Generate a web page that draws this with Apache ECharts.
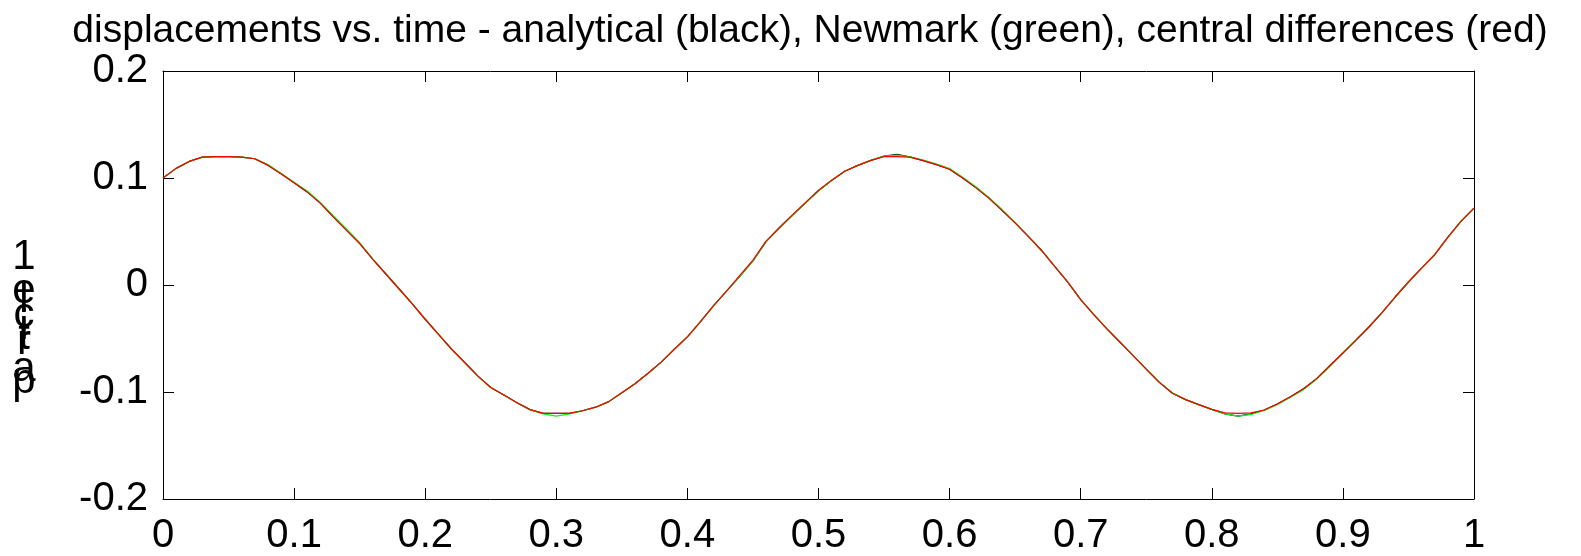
<!DOCTYPE html>
<html>
<head>
<meta charset="utf-8">
<script src="https://cdn.jsdelivr.net/npm/echarts@6/dist/echarts.min.js"></script>
<style>
html,body{margin:0;padding:0;background:#fff;}
#chart{width:1581px;height:556px;}
</style>
</head>
<body>
<div id="chart"></div>
<script>
const titleText = 'displacements vs. time - analytical (black), Newmark (green), central differences (red)';
const yLabelText = 'particle1';
const xTicks = [0, 0.1, 0.2, 0.3, 0.4, 0.5, 0.6, 0.7, 0.8, 0.9, 1];
const yTicks = [-0.2, -0.1, 0, 0.1, 0.2];

const time = [0.00,0.01,0.02,0.03,0.04,0.05,0.06,0.07,0.08,0.09,
  0.10,0.11,0.12,0.13,0.14,0.15,0.16,0.17,0.18,0.19,
  0.20,0.21,0.22,0.23,0.24,0.25,0.26,0.27,0.28,0.29,
  0.30,0.31,0.32,0.33,0.34,0.35,0.36,0.37,0.38,0.39,
  0.40,0.41,0.42,0.43,0.44,0.45,0.46,0.47,0.48,0.49,
  0.50,0.51,0.52,0.53,0.54,0.55,0.56,0.57,0.58,0.59,
  0.60,0.61,0.62,0.63,0.64,0.65,0.66,0.67,0.68,0.69,
  0.70,0.71,0.72,0.73,0.74,0.75,0.76,0.77,0.78,0.79,
  0.80,0.81,0.82,0.83,0.84,0.85,0.86,0.87,0.88,0.89,
  0.90,0.91,0.92,0.93,0.94,0.95,0.96,0.97,0.98,0.99,1.00];

const analytical = [0.100,0.109,0.1155,0.1195,0.120,0.120,0.1195,0.118,0.112,0.104,
  0.0955,0.087,0.0765,0.0637,0.0514,0.039,0.0242,0.0103,-0.0035,-0.0175,
  -0.032,-0.046,-0.0598,-0.0722,-0.0849,-0.0958,-0.1029,-0.110,-0.1165,-0.120,
  -0.120,-0.120,-0.1175,-0.1142,-0.109,-0.1006,-0.0923,-0.0825,-0.0721,-0.060,
  -0.0485,-0.0343,-0.0192,-0.0055,0.008,0.0225,0.0405,0.053,0.065,0.0766,
  0.088,0.0976,0.1063,0.1118,0.1165,0.1205,0.122,0.1195,0.1163,0.1125,
  0.1082,0.100,0.091,0.0812,0.0697,0.058,0.0455,0.0325,0.0177,0.003,
  -0.0137,-0.0276,-0.041,-0.0535,-0.066,-0.0786,-0.091,-0.1012,-0.1071,-0.1118,
  -0.1162,-0.1205,-0.1225,-0.1205,-0.1168,-0.1112,-0.1044,-0.097,-0.0875,-0.0755,
  -0.0636,-0.0515,-0.039,-0.0255,-0.011,0.0028,0.0158,0.0283,0.0445,0.0594,0.0718];

const newmark = [0.100,0.109,0.1155,0.1195,0.120,0.120,0.1195,0.118,0.1125,0.1045,
  0.096,0.0878,0.0772,0.0645,0.0522,0.0395,0.0245,0.0103,-0.0035,-0.0175,
  -0.032,-0.046,-0.0598,-0.0722,-0.0849,-0.0958,-0.1029,-0.110,-0.1165,-0.1205,
  -0.1225,-0.1205,-0.1175,-0.1142,-0.109,-0.1006,-0.0923,-0.0825,-0.0721,-0.060,
  -0.0485,-0.0343,-0.0192,-0.0055,0.008,0.0225,0.0405,0.053,0.065,0.0766,
  0.088,0.0976,0.1063,0.1118,0.1165,0.1205,0.1215,0.1198,0.1168,0.113,
  0.1088,0.1008,0.0918,0.0818,0.0705,0.0585,0.0455,0.0325,0.0177,0.003,
  -0.0137,-0.0276,-0.041,-0.0535,-0.066,-0.0786,-0.0905,-0.1008,-0.1071,-0.1118,
  -0.1162,-0.1205,-0.1225,-0.121,-0.1172,-0.1118,-0.105,-0.0978,-0.0882,-0.0762,
  -0.0630,-0.0512,-0.039,-0.0255,-0.011,0.0028,0.0158,0.0283,0.0445,0.0594,0.0718];

const centralDiff = [0.100,0.109,0.1155,0.1195,0.120,0.120,0.1195,0.118,0.112,0.104,
  0.0955,0.087,0.0765,0.0635,0.051,0.0388,0.024,0.0103,-0.0035,-0.0175,
  -0.032,-0.046,-0.0598,-0.0722,-0.0849,-0.0958,-0.1029,-0.110,-0.1165,-0.120,
  -0.120,-0.120,-0.1175,-0.1142,-0.109,-0.1006,-0.0923,-0.0825,-0.0721,-0.060,
  -0.0485,-0.0343,-0.0192,-0.0055,0.009,0.0232,0.041,0.0535,0.0655,0.077,
  0.0885,0.098,0.1063,0.1118,0.1165,0.120,0.120,0.1195,0.1163,0.1125,
  0.1082,0.100,0.091,0.0812,0.0697,0.058,0.0455,0.0325,0.0177,0.003,
  -0.0137,-0.0276,-0.041,-0.0535,-0.066,-0.0786,-0.091,-0.1012,-0.1071,-0.1118,
  -0.1162,-0.1195,-0.120,-0.1195,-0.1168,-0.1112,-0.1044,-0.097,-0.0875,-0.0755,
  -0.0636,-0.0515,-0.039,-0.0255,-0.011,0.0028,0.0158,0.0283,0.0445,0.0594,0.0718];

const FONT = '"Liberation Sans", Arial, Helvetica, sans-serif';

function pairs(vals){ return time.map((t,i)=>[t, vals[i]]); }

const chart = echarts.init(document.getElementById('chart'), null, {renderer:'canvas'});

// vertical stacked y-label characters (bottom to top: p a r t i c l e 1)
const yLabelChars = yLabelText.split('');
const charBaselines = [394, 382, 355, 350, 340, 328, 313, 304, 270];
const LABEL_FS = 42;
const yLabelGraphics = yLabelChars.map((ch, i) => ({
  type: 'text',
  x: 24,
  y: charBaselines[i] + 8.3,
  style: {
    text: ch,
    font: LABEL_FS + 'px ' + FONT,
    fill: '#000',
    align: 'center',
    verticalAlign: 'bottom'
  }
}));

const axisCommon = {
  axisLine: {show: true, onZero: false, lineStyle: {color: '#000', width: 1}},
  axisTick: {show: true, inside: true, length: 11, lineStyle: {color: '#000', width: 1}},
  splitLine: {show: false}
};

chart.setOption({
  animation: false,
  backgroundColor: '#fff',
  grid: {left: 163, top: 71, width: 1311, height: 433, containLabel: false},
  graphic: [
    {
      type: 'text',
      x: 810,
      y: 51,
      style: {
        text: titleText,
        font: '39px ' + FONT,
        fill: '#000',
        align: 'center',
        verticalAlign: 'bottom'
      }
    }
  ].concat(yLabelGraphics),
  xAxis: [
    Object.assign({
      type: 'value', position: 'bottom',
      min: xTicks[0], max: xTicks[xTicks.length-1], interval: 0.1,
      axisLabel: {show: true, color: '#000', fontSize: 40, fontFamily: FONT, margin: 17,
        formatter: v => String(Math.round(v*10)/10)}
    }, axisCommon),
    Object.assign({
      type: 'value', position: 'top',
      min: xTicks[0], max: xTicks[xTicks.length-1], interval: 0.1,
      axisLabel: {show: false}
    }, axisCommon)
  ],
  yAxis: [
    Object.assign({
      type: 'value', position: 'left',
      min: yTicks[0], max: yTicks[yTicks.length-1], interval: 0.1,
      axisLabel: {show: true, color: '#000', fontSize: 40, fontFamily: FONT, margin: 15,
        formatter: v => String(Math.round(v*10)/10)}
    }, axisCommon),
    Object.assign({
      type: 'value', position: 'right',
      min: yTicks[0], max: yTicks[yTicks.length-1], interval: 0.1,
      axisLabel: {show: false}
    }, axisCommon)
  ],
  series: [
    {name: 'analytical', type: 'line', data: pairs(analytical), showSymbol: false, symbol: 'none',
      lineStyle: {color: '#000000', width: 1.2}, itemStyle: {color: '#000000'}, z: 2},
    {name: 'Newmark', type: 'line', data: pairs(newmark), showSymbol: false, symbol: 'none',
      lineStyle: {color: '#00ff00', width: 1.2}, itemStyle: {color: '#00ff00'}, z: 3},
    {name: 'central differences', type: 'line', data: pairs(centralDiff), showSymbol: false, symbol: 'none',
      lineStyle: {color: '#ff0000', width: 1.2}, itemStyle: {color: '#ff0000'}, z: 4}
  ]
});
</script>
</body>
</html>
